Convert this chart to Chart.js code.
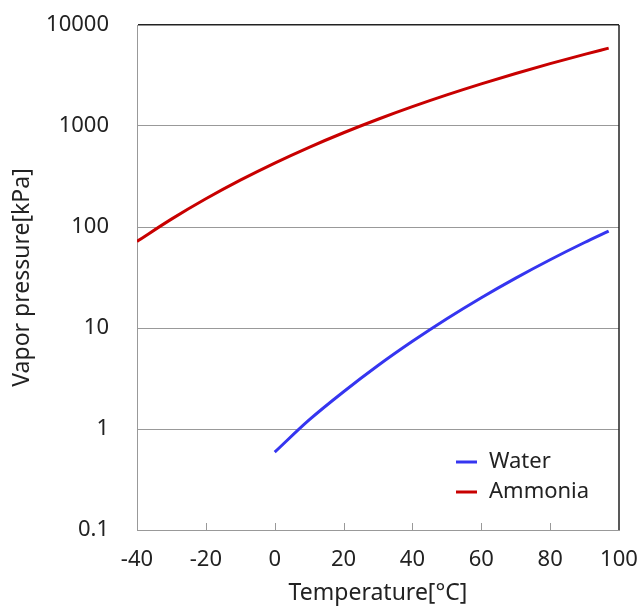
<!DOCTYPE html>
<html>
<head>
<meta charset="utf-8">
<script src="https://cdn.jsdelivr.net/npm/chart.js@4/dist/chart.umd.min.js"></script>
<style>
  body { margin: 0; background: #fff; }
  #wrap { width: 639px; height: 606px; }
</style>
</head>
<body>
<div id="wrap"><canvas id="vaporChart" width="639" height="606"></canvas></div>
<script>
const waterTemp = [0, 10, 20, 30, 40, 50, 60, 70, 80, 90, 97];
const waterP = [0.59, 1.23, 2.34, 4.25, 7.38, 12.35, 19.95, 31.2, 47.4, 70.2, 91];
const ammoniaTemp = [-40, -30, -20, -10, 0, 10, 20, 30, 40, 50, 60, 70, 80, 90, 97];
const ammoniaP = [72, 119.6, 190.2, 290.9, 429.4, 615.2, 857.5, 1167, 1555, 2033, 2614, 3312, 4141, 5116, 5900];
const yTicks = [0.1, 1, 10, 100, 1000, 10000];
const xTicks = [-40, -20, 0, 20, 40, 60, 80, 100];

const fontFamily = '"Noto Sans", "DejaVu Sans", sans-serif';

function toPoints(xs, ys) {
    return xs.map((x, i) => ({ x: x, y: ys[i] }));
}

function noEdgePadding(scale) {
    scale.paddingTop = 0;
    scale.paddingBottom = 0;
    scale.paddingLeft = 0;
    scale.paddingRight = 0;
}

// right frame line, inside tick marks and the legend box
const framePlugin = {
    id: 'frame',
    afterDatasetsDraw(chart) {
        const c = chart.ctx;
        const area = chart.chartArea;
        const xs = chart.scales.x;
        c.save();
        c.strokeStyle = '#222';
        c.lineWidth = 1.5;
        c.beginPath();
        c.moveTo(area.right, area.top);
        c.lineTo(area.right, area.bottom);
        c.stroke();

        c.strokeStyle = '#999';
        c.lineWidth = 1;
        xTicks.slice(1, -1).forEach(v => {
            const px = Math.round(xs.getPixelForValue(v)) + 0.5;
            c.beginPath();
            c.moveTo(px, area.bottom);
            c.lineTo(px, area.bottom - 7);
            c.stroke();
        });

        // legend
        c.font = '22px ' + fontFamily;
        c.textBaseline = 'middle';
        c.fillStyle = '#222';
        chart.data.datasets.forEach((ds, i) => {
            const y = 462 + i * 30;
            c.strokeStyle = ds.borderColor;
            c.lineWidth = 3;
            c.beginPath();
            c.moveTo(456, y);
            c.lineTo(477, y);
            c.stroke();
            c.fillText(ds.label, 489, y);
        });
        c.restore();
    }
};

const ctx = document.getElementById('vaporChart');
const vaporChart = new Chart(ctx, {
    type: 'line',
    data: {
        datasets: [{
            label: 'Water',
            data: toPoints(waterTemp, waterP),
            borderColor: '#3535F0',
            borderWidth: 3,
            pointRadius: 0,
            cubicInterpolationMode: 'monotone'
        }, {
            label: 'Ammonia',
            data: toPoints(ammoniaTemp, ammoniaP),
            borderColor: '#C80000',
            borderWidth: 3,
            pointRadius: 0,
            cubicInterpolationMode: 'monotone'
        }]
    },
    options: {
        responsive: false,
        animation: false,
        layout: {
            padding: { top: 25, right: 20, left: 0, bottom: 0 }
        },
        plugins: {
            legend: { display: false },
            tooltip: { enabled: false }
        },
        scales: {
            x: {
                type: 'linear',
                min: -40,
                max: 100,
                afterBuildTicks: scale => {
                    scale.ticks = xTicks.map(v => ({ value: v }));
                },
                afterFit: scale => { scale.height = 76; noEdgePadding(scale); },
                grid: { display: false },
                border: { color: '#999', width: 1 },
                ticks: {
                    color: '#222',
                    padding: 9,
                    maxRotation: 0,
                    font: { family: fontFamily, size: 22 }
                },
                title: {
                    display: true,
                    text: 'Temperature[°C]',
                    color: '#222',
                    padding: { top: 0, bottom: 0 },
                    font: { family: fontFamily, size: 23, lineHeight: 1.1 }
                }
            },
            y: {
                type: 'logarithmic',
                min: 0.1,
                max: 10000,
                afterBuildTicks: scale => {
                    scale.ticks = yTicks.map(v => ({ value: v }));
                },
                afterFit: scale => { scale.width = 137; noEdgePadding(scale); },
                grid: {
                    drawTicks: false,
                    color: c => (c.tick && c.tick.value === 10000) ? '#222' : '#999',
                    lineWidth: c => (c.tick && c.tick.value === 10000) ? 1.5 : 1
                },
                border: { color: '#999', width: 1 },
                ticks: {
                    color: '#222',
                    padding: 28,
                    font: { family: fontFamily, size: 22 },
                    callback: v => String(v)
                },
                title: {
                    display: true,
                    text: 'Vapor pressure[kPa]',
                    color: '#222',
                    padding: { top: 9, bottom: 0 },
                    font: { family: fontFamily, size: 23 }
                }
            }
        }
    },
    plugins: [framePlugin]
});
</script>
</body>
</html>
